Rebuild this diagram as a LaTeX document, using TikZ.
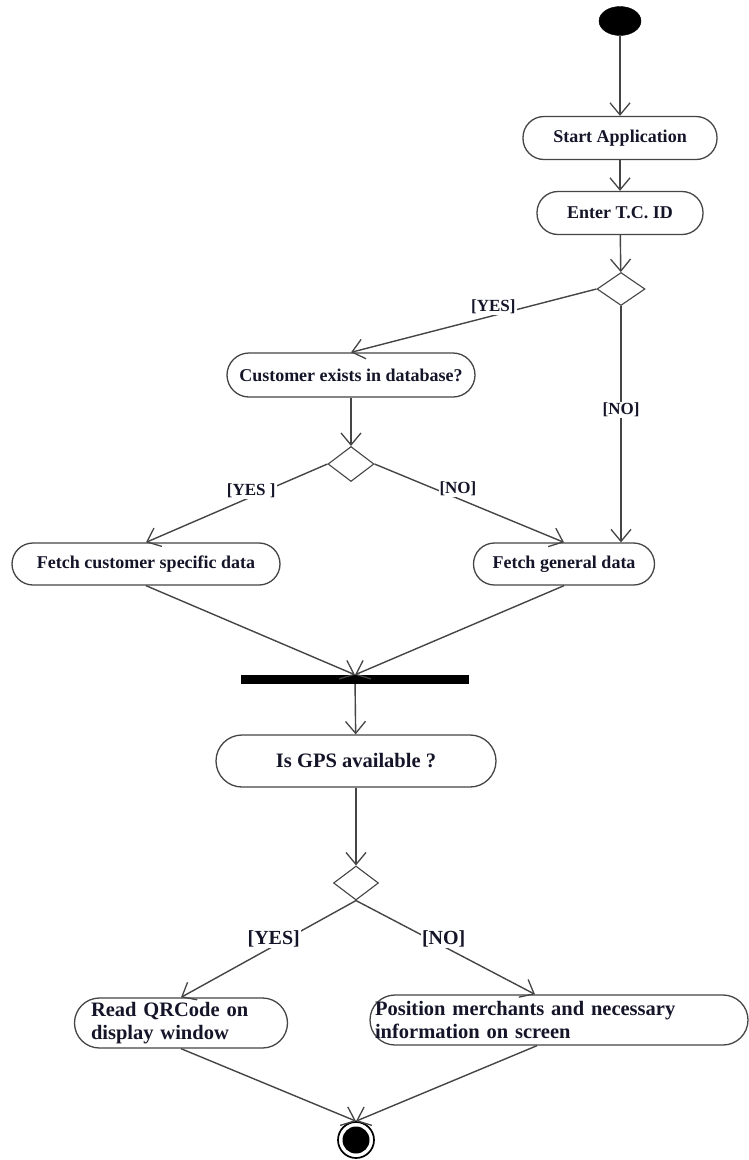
\documentclass[tikz,border=0pt]{standalone}
\usepackage{fontspec}
\setmainfont{Liberation Serif}
\usetikzlibrary{arrows.meta,shapes.geometric}
\definecolor{edgegray}{HTML}{454545}
\definecolor{inkdark}{HTML}{15152A}

\begin{document}
\begin{tikzpicture}[x=1pt,y=-1pt,
  activity/.style={draw=edgegray, line width=1.3pt, fill=white, inner sep=0pt,
    text=inkdark, font=\bfseries\fontsize{18}{20}\selectfont, align=center},
  bigactivity/.style={activity, font=\bfseries\fontsize{20.5}{23}\selectfont},
  decision/.style={diamond, draw=edgegray, line width=1.1pt, fill=white,
    inner sep=0pt, minimum width=48pt, minimum height=33pt},
  flow/.style={draw=edgegray, line width=1.4pt,
    -{Straight Barb[length=12pt,width=20pt,line width=1.3pt]}},
  guard/.style={fill=white, inner sep=1pt, text=inkdark,
    font=\bfseries\fontsize{17}{19}\selectfont},
  bigguard/.style={guard, font=\bfseries\fontsize{20}{22}\selectfont}]

\useasboundingbox (0,0) rectangle (749,1160);
\fill[white] (0,0) rectangle (749,1160);

% initial node
\node[ellipse, fill=black, draw=black, minimum width=42pt, minimum height=29pt,
  inner sep=0pt] (start) at (620,21) {};

% activities and decisions
\node[activity, rounded corners=21pt, minimum width=194pt, minimum height=43pt]
  (app) at (620,138) {Start Application};
\node[activity, rounded corners=21pt, minimum width=166pt, minimum height=43pt]
  (tcid) at (620,213) {Enter T.C. ID};
\node[decision] (d1) at (621,289) {};
\node[activity, rounded corners=22pt, minimum width=248pt, minimum height=44pt]
  (cust) at (351,375) {Customer exists in database?};
\node[decision, minimum width=46pt, minimum height=35pt] (d2) at (351,464) {};
\node[activity, rounded corners=21pt, minimum width=268pt, minimum height=42pt]
  (fcs) at (146,564) {Fetch customer specific data};
\node[activity, rounded corners=21pt, minimum width=181pt, minimum height=42pt]
  (fgen) at (564,564) {Fetch general data};

% join bar
\node[fill=black, minimum width=228pt, minimum height=9pt, inner sep=0pt]
  (bar) at (355,679.5) {};

\node[bigactivity, rounded corners=26pt, minimum width=280pt, minimum height=52pt]
  (gps) at (356,761) {Is GPS available ?};
\node[decision, minimum width=45pt, minimum height=34pt] (d3) at (356,883) {};
\node[bigactivity, rounded corners=25pt, minimum width=213pt, minimum height=50pt,
  text width=180pt, align=left] (qr) at (181,1023) {Read QRCode on\\display window};
\node[bigactivity, rounded corners=25pt, minimum width=378pt, minimum height=50pt,
  text width=368pt, align=left] (pos) at (559,1020)
  {Position merchants and necessary\\information on screen};

% final node
\node[circle, draw=black, line width=1.7pt, fill=white, minimum size=36pt,
  inner sep=0pt] (end) at (356,1140) {};
\fill[black] (end.center) circle (13.5pt);

% control flow
\draw[flow] (start) -- (app);
\draw[flow] (app) -- (tcid);
\draw[flow] (tcid) -- (d1);
\draw[flow] (d1.west) -- node[guard, pos=0.42, yshift=9pt] {[YES]} (cust.north);
\draw[flow] (d1.south) -- node[guard, pos=0.44] {[NO]} (d1.south |- fgen.north);
\draw[flow] (cust) -- (d2);
\draw[flow] (d2.west) -- node[guard, pos=0.42, yshift=6pt] {[YES ]} (fcs.north);
\draw[flow] (d2.east) -- node[guard, pos=0.44, yshift=10pt] {[NO]} (fgen.north);
\draw[flow] (fcs.south) -- (bar.north);
\draw[flow] (fgen.south) -- (bar.north);
\draw[flow] (bar) -- (gps);
\draw[flow] (gps) -- (d3);
\draw[flow] (d3.south) -- node[bigguard, pos=0.47, yshift=7pt] {[YES]} (qr.north);
\draw[flow] (d3.south) -- node[bigguard, pos=0.49, yshift=8pt] {[NO]}
  ([xshift=-24pt]pos.north);
\draw[flow] (qr.south) -- (end.north);
\draw[flow] ([xshift=-22pt]pos.south) -- (end.north);

\end{tikzpicture}
\end{document}
